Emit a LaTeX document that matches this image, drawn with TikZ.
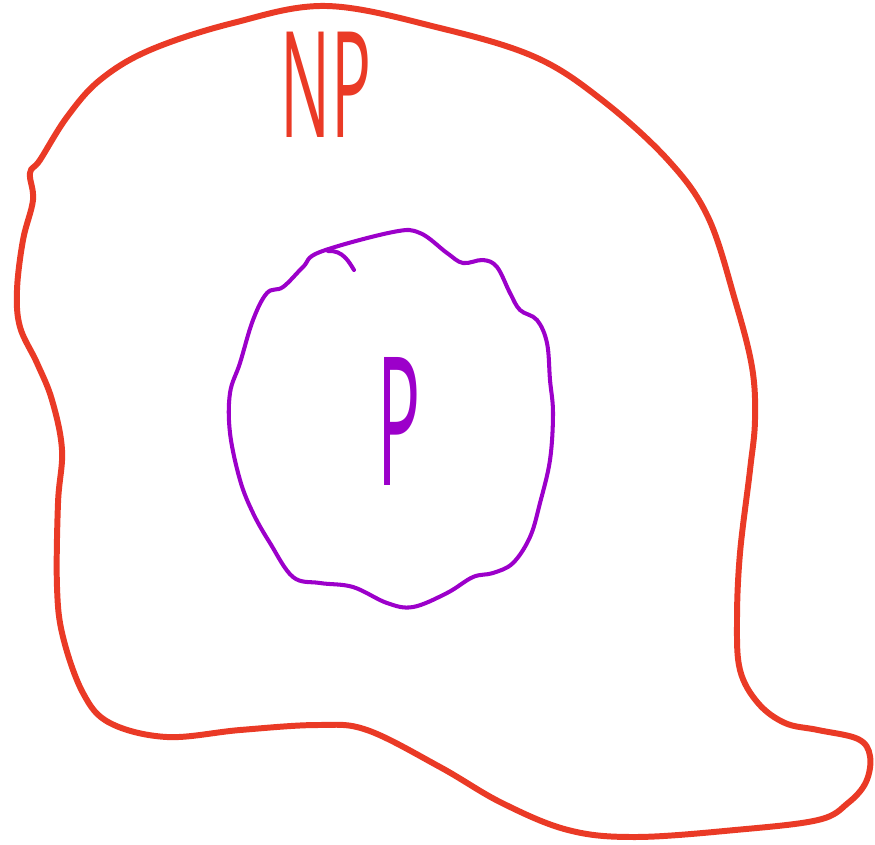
\documentclass[tikz,border=0pt]{standalone}
\usepackage{fontspec}
\setsansfont{Open Sans}
\definecolor{npred}{RGB}{234,58,38}
\definecolor{ppurple}{RGB}{156,0,202}

\begin{document}
\begin{tikzpicture}[
    x=0.01cm, y=-0.01cm,
    blob/.style={line join=round, line cap=round, smooth cycle, tension=0.6},
    setlabel/.style={font=\sffamily\fontsize{42}{42}\selectfont, inner sep=0pt, anchor=base}
]
\useasboundingbox (0,0) rectangle (875,844);

% Outer set NP
\draw[npred, line width=1.7pt] plot[blob] coordinates {
    (327,6) (440,28) (535,57) (602,100) (668,160) (708,217) (735,300)
    (752,367) (755,420) (750,470) (740,553) (737,620) (740,670) (758,703)
    (785,723) (818,730) (858,739) (870,756) (866,782) (848,803) (818,820)
    (735,830) (635,837) (568,830) (502,803) (440,767) (367,730) (317,725)
    (240,730) (167,737) (110,723) (83,693) (63,637) (57,587) (58,503)
    (62,450) (52,400) (37,363) (20,327) (17,290) (23,240) (33,200)
    (30,173) (40,160) (67,117) (100,80) (150,50) (233,23)};

% Inner set P
\draw[ppurple, line width=1.15pt] plot[blob] coordinates {
    (320,252) (393,232) (420,233) (447,253) (463,263) (483,260) (497,267)
    (510,293) (520,310) (537,320) (547,343) (550,380) (553,413) (550,460)
    (540,503) (530,537) (513,563) (493,573) (473,577) (447,593) (413,607)
    (387,603) (353,587) (320,583) (293,577) (270,543) (253,513) (240,480)
    (230,433) (230,393) (240,363) (253,320) (267,293) (283,287) (303,267)};
\draw[ppurple, line width=1.15pt, line cap=round] (328,251) .. controls (343,250) and (349,262) .. (354,270);

% Labels
\node[setlabel, text=npred] (np-label) at (326,137) {\scalebox{0.45}[1]{NP}};
\node[setlabel, text=ppurple, font=\sffamily\fontsize{51}{51}\selectfont] (p-label) at (399,485) {\scalebox{0.4}[1]{P}};

\end{tikzpicture}
\end{document}
